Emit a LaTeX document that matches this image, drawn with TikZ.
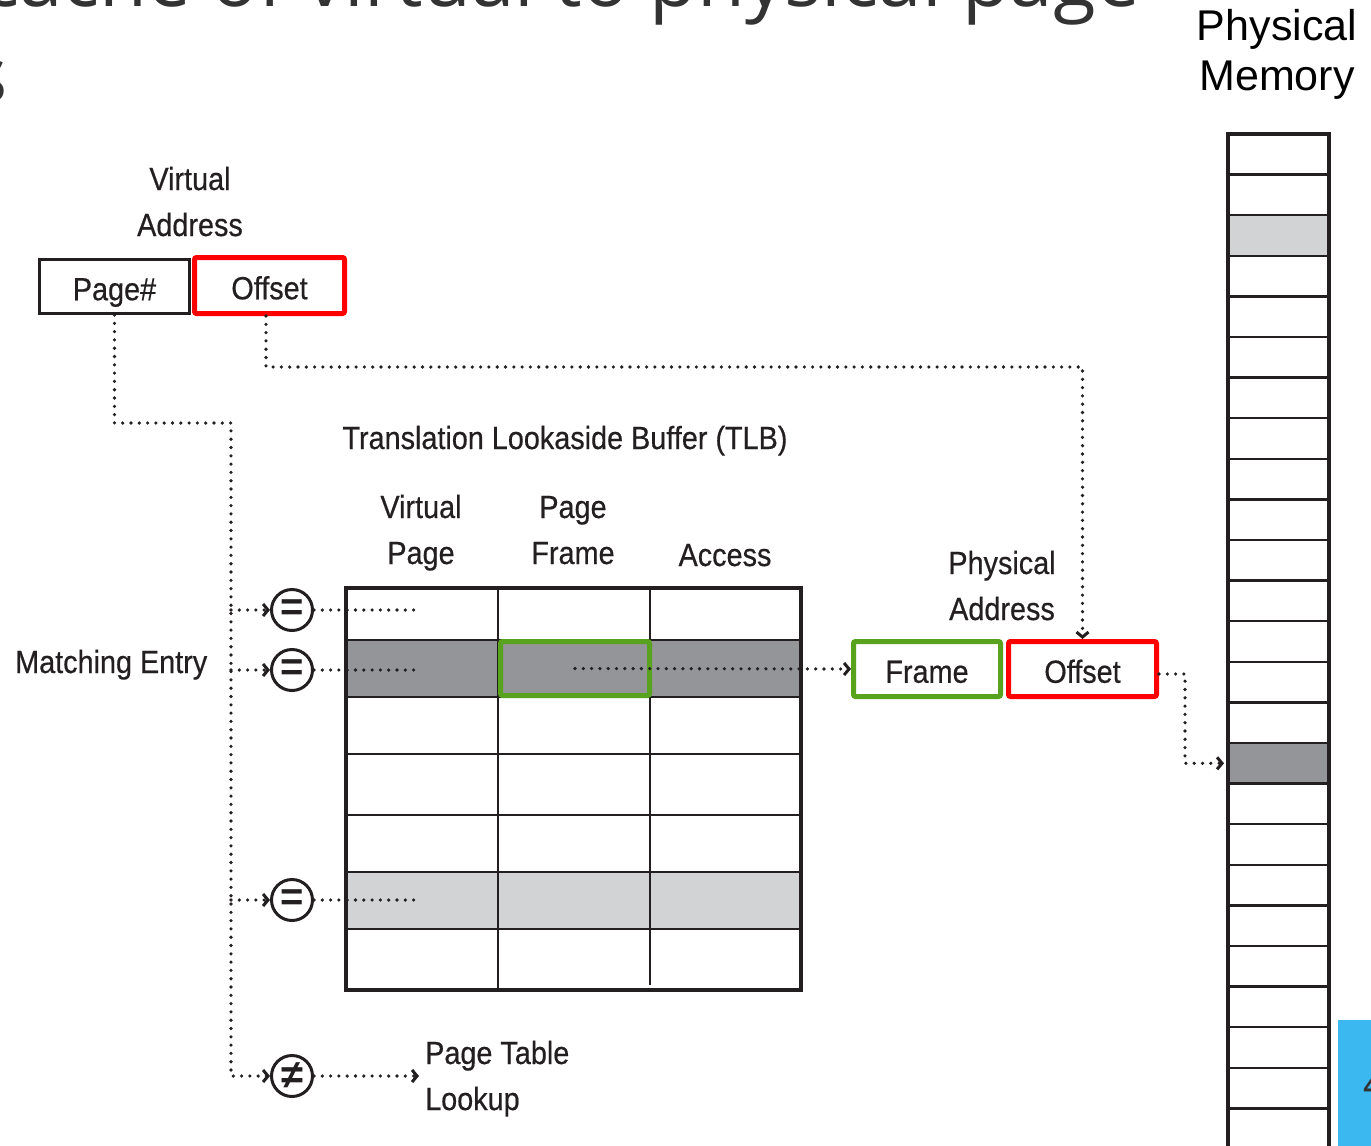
\documentclass[tikz,border=0pt]{standalone}
\usepackage{fontspec}
\setmainfont{Liberation Sans}
\newfontfamily\condfont{Liberation Sans}[FakeStretch=0.9,FakeBold=0.5]
\newfontfamily\headfont{Open Sans}
\usetikzlibrary{arrows.meta}
\definecolor{ink}{HTML}{231F20}
\definecolor{headink}{HTML}{333333}
\definecolor{hitgray}{HTML}{939598}
\definecolor{softgray}{HTML}{D1D3D4}
\definecolor{addrred}{HTML}{FF0000}
\definecolor{framegreen}{HTML}{58A21E}
\definecolor{slideblue}{HTML}{3BB8F0}

\begin{document}
\begin{tikzpicture}[x=1pt,y=-1pt,
  lbl/.style={font=\condfont\fontsize{32}{46}\selectfont, inner sep=0pt, text=ink},
  boxtext/.style={lbl, text height=27.5pt, text depth=0pt},
  cellbox/.style={draw=ink, line width=3pt, inner sep=0pt, fill=white},
  redbox/.style={draw=addrred, line width=5pt, rounded corners=2pt, inner sep=0pt, fill=white},
  greenbox/.style={draw=framegreen, line width=5pt, rounded corners=2pt, inner sep=0pt},
  cmp/.style={circle, draw=ink, line width=3pt, minimum size=41pt, inner sep=0pt,
              fill=white, text=ink, font=\bfseries\fontsize{40}{40}\selectfont},
  flow/.style={draw=ink, line width=3.6pt, line cap=round, dash pattern=on 0pt off 8.3pt},
  tipped/.style={flow, -{Straight Barb[length=5pt,width=12pt,line width=3pt]}},
  rowline/.style={draw=ink, line width=2.5pt},
]
\path[use as bounding box] (0,0) rectangle (1371,1146);
\clip (0,0) rectangle (1371,1146);

% slide heading (runs past the frame)
\node[font=\headfont\fontsize{78}{90}\selectfont, text=headink, anchor=base east, inner sep=0pt]
  (head1) at (1140,6) {cache of virtual to physical page};
\node[font=\headfont\fontsize{78}{90}\selectfont, text=headink, anchor=base east, inner sep=0pt]
  (head2) at (8,102) {s};

% ---- virtual address ----
\node[lbl, align=center, anchor=base] (vaLabel) at (190,236) {Virtual\\Address};
\node[cellbox, boxtext, minimum width=150pt, minimum height=54pt, draw=ink, line width=3pt]
  (vaPage) at (114.5,286.5) {Page\#};
\node[redbox, boxtext, minimum width=150pt, minimum height=56pt, draw=addrred, line width=5pt]
  (vaOff) at (269.5,285.5) {Offset};

% ---- TLB ----
\node[lbl, anchor=base] (tlbTitle) at (565,449) {Translation Lookaside Buffer (TLB)};
\node[lbl, align=center, anchor=base] (colVp) at (421,564) {Virtual\\Page};
\node[lbl, align=center, anchor=base] (colPf) at (573,564) {Page\\Frame};
\node[lbl, anchor=base] (colAcc) at (725,566) {Access};

\fill[hitgray] (346,640) rectangle (801,697);
\fill[softgray] (346,872) rectangle (801,929);
\foreach \y in {640,697,754,815,872,929}
  \draw[rowline] (346,\y) -- (801,\y);
\draw[rowline] (498,588) -- (498,990);
\draw[rowline] (650,588) -- (650,985);
\draw[draw=ink, line width=3.5pt] (346,588) rectangle (801,990);

\node[greenbox, minimum width=149pt, minimum height=54pt] (pfHit) at (575,668.5) {};

% ---- comparators ----
\node[cmp] (cmpA) at (292,610) {=};
\node[cmp] (cmpB) at (292,670) {=};
\node[cmp] (cmpC) at (292,900) {=};
\node[cmp] (cmpMiss) at (292,1076) {≠};

\node[lbl, anchor=base west] (matchLbl) at (15,673) {Matching Entry};
\node[lbl, align=left, anchor=base west] (ptLookup) at (425,1110) {Page Table\\Lookup};

\coordinate (busTop) at (231,423);
\coordinate (probeEnd) at (420,610);
\coordinate (offTurn) at (700,367);

\draw[tipped] (vaPage.south) |- (busTop) |- (cmpMiss.west);
\foreach \c in {cmpA,cmpB,cmpC}
  \draw[tipped] (\c.west -| busTop) -- (\c.west);
\foreach \c in {cmpA,cmpB,cmpC}
  \draw[flow] (\c.east) -- (\c.east -| probeEnd);
\draw[tipped] (cmpMiss.east) -- ([xshift=-6pt]cmpMiss.east -| ptLookup.west);

% ---- physical address ----
\node[lbl, align=center, anchor=base] (paLabel) at (1002,620) {Physical\\Address};
\node[greenbox, boxtext, fill=white, minimum width=147pt, minimum height=55pt, draw=framegreen, line width=5pt]
  (paFrame) at (927,669) {Frame};
\node[redbox, boxtext, minimum width=148pt, minimum height=55pt, draw=addrred, line width=5pt]
  (paOff) at (1082.5,669) {Offset};

\draw[tipped] ([xshift=-3.5pt]vaOff.south) |- (offTurn) -| (paOff.north);
\draw[tipped] (pfHit.center) -- (paFrame.west);

% ---- physical memory ----
\node[font=\fontsize{43}{50}\selectfont, text=black, align=center, anchor=base, inner sep=0pt]
  (memTitle) at (1277,90) {Physical\\Memory};
\fill[softgray] (1228,215.2) rectangle (1329,255.8);
\node[fill=hitgray, minimum width=101pt, minimum height=40.6pt, inner sep=0pt, outer sep=0pt,
  anchor=north west] (memHit) at (1228,743) {};
\foreach \k in {1,...,25}
  \draw[rowline] (1228,134+40.6*\k) -- (1329,134+40.6*\k);
\draw[draw=ink, line width=3.5pt] (1228,1160) -- (1228,134) -- (1329,134) -- (1329,1160);

\draw[tipped] ([yshift=-5pt]paOff.east) -- ++(26,0) |- ([xshift=-4pt]memHit.west);

% ---- slide corner ----
\fill[slideblue] (1338,1020) rectangle (1380,1150);
\node[font=\headfont\fontsize{40}{40}\selectfont, text=headink, anchor=base west, inner sep=0pt]
  (pageNo) at (1363,1098) {4};
\end{tikzpicture}
\end{document}
